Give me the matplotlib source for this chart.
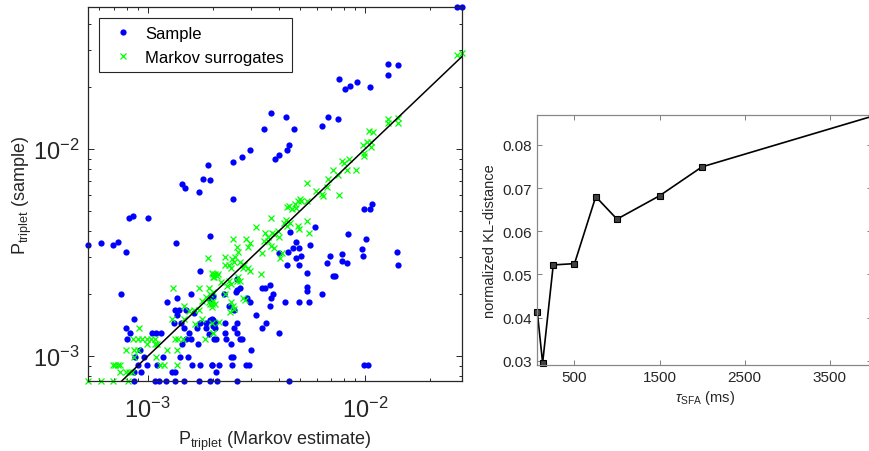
import numpy as np
import matplotlib
matplotlib.use("Agg")
import matplotlib.pyplot as plt
from matplotlib.ticker import LogLocator, NullFormatter, FixedLocator

plt.rcParams['font.family'] = ['Liberation Sans', 'DejaVu Sans']
plt.rcParams['mathtext.fontset'] = 'custom'
plt.rcParams['mathtext.rm'] = 'Liberation Sans'
plt.rcParams['mathtext.it'] = 'Liberation Sans:italic'
plt.rcParams['mathtext.sf'] = 'Liberation Sans'

# --- left panel: triplet probabilities (values in units of 1e-3) ---
sample_x = [3.69, 3.43, 2.95, 2.72, 2.48, 1.89, 1.79, 1.945, 1.44, 1.48,
            1.72, 2.47, 3.85, 4.00, 4.38, 4.45, 4.71, 4.33, 6.35, 6.75,
            7.49, 7.59, 8.11, 8.52, 9.16, 10.5, 12.75, 14.2, 12.72, 26.4,
            27.95, 0.823, 0.853, 1.008, 0.533, 0.608, 0.690, 0.728, 0.794, 1.354,
            1.929, 1.746, 0.754, 1.223, 1.37, 1.587, 1.94, 2.00, 0.862, 0.797,
            0.832, 0.803, 1.046, 1.095, 1.148, 1.336, 1.398, 1.501, 1.37, 1.326,
            1.418, 1.639, 1.86, 1.929, 2.00, 1.47, 1.549, 1.501, 1.686, 1.736,
            1.855, 1.91, 2.00, 1.58, 1.438, 1.70, 0.922, 0.874, 0.962, 1.172,
            1.408, 1.528, 0.905, 0.993, 1.107, 1.604, 1.74, 1.975, 0.868, 0.929,
            1.289, 1.33, 0.868, 1.084, 1.127, 1.21, 1.33, 1.47, 1.72, 1.929,
            5.91, 4.53, 4.83, 4.66, 4.95, 5.59, 4.03, 4.42, 4.83, 5.10,
            4.37, 4.95, 6.92, 6.69, 7.12, 5.42, 3.35, 3.48, 3.67, 5.41,
            5.41, 6.35, 3.78, 3.70, 3.67, 4.30, 4.99, 5.54, 2.65, 2.58,
            2.54, 2.58, 2.24, 2.85, 2.96, 2.37, 2.50, 3.15, 3.50, 3.36,
            4.03, 1.976, 2.03, 2.03, 2.28, 2.57, 2.27, 2.49, 2.58, 2.02,
            2.06, 2.30, 2.65, 2.71, 2.42, 2.99, 2.41, 2.46, 1.97, 2.135,
            2.44, 2.84, 2.93, 2.055, 2.09, 2.57, 4.46, 9.90, 10.58, 10.8,
            8.36, 10.07, 9.72, 9.83, 7.84, 7.84, 8.29, 14.04, 14.2, 7.28,
            9.86, 10.32]
sample_y = [14.97, 12.45, 9.93, 9.15, 8.66, 8.40, 7.15, 7.10, 6.80, 6.48,
            6.18, 5.77, 9.00, 9.40, 9.85, 10.5, 12.45, 14.27, 12.9, 14.27,
            13.9, 21.7, 19.4, 20.2, 21.1, 20.0, 25.7, 25.4, 22.75, 48.3,
            48.3, 4.63, 4.73, 4.63, 3.44, 3.51, 3.44, 3.56, 3.19, 3.51,
            3.80, 2.58, 2.00, 1.83, 1.90, 1.99, 1.89, 1.96, 1.51, 1.37,
            1.29, 1.21, 1.30, 1.30, 1.30, 1.68, 1.68, 1.68, 1.59, 1.45,
            1.45, 1.62, 1.45, 1.50, 1.50, 1.37, 1.30, 1.21, 1.37, 1.45,
            1.37, 1.28, 1.40, 1.21, 1.14, 1.14, 1.07, 0.989, 0.989, 0.989,
            0.989, 0.989, 0.908, 0.908, 0.908, 0.908, 0.908, 0.908, 0.837, 0.837,
            0.837, 0.837, 0.757, 0.757, 0.757, 0.757, 0.757, 0.757, 0.757, 0.757,
            4.19, 3.97, 3.57, 3.34, 3.34, 3.44, 3.14, 3.18, 2.97, 3.05,
            2.76, 2.76, 3.05, 2.83, 2.44, 2.51, 2.14, 2.14, 2.21, 2.15,
            2.07, 1.99, 1.99, 1.90, 1.75, 1.83, 1.83, 1.83, 2.14, 2.09,
            2.05, 2.36, 2.00, 1.90, 1.83, 1.75, 1.67, 1.59, 1.45, 1.37,
            1.30, 1.51, 1.45, 1.37, 1.45, 1.45, 1.30, 1.37, 1.30, 1.21,
            1.21, 1.21, 1.21, 1.21, 1.14, 1.07, 0.989, 0.989, 0.908, 0.908,
            0.908, 0.908, 0.908, 0.837, 0.757, 0.757, 0.757, 5.12, 5.12, 5.41,
            3.88, 3.68, 3.29, 3.05, 3.13, 2.88, 2.83, 3.19, 2.76, 2.44,
            0.908, 0.908]

markov_x = [26.4, 27.95, 12.72, 14.15, 12.72, 14.15, 10.4, 10.86, 9.75, 10.18,
            10.62, 10.62, 9.86, 9.93, 7.81, 8.03, 8.44, 8.29, 9.09, 7.12,
            7.51, 6.78, 6.69, 5.93, 6.32, 6.39, 5.41, 7.57, 5.01, 4.48,
            4.60, 4.81, 4.93, 5.08, 4.77, 4.36, 5.39, 3.69, 4.34, 4.24,
            4.50, 4.39, 4.90, 4.97, 5.39, 5.54, 3.14, 3.46, 3.57, 3.73,
            3.82, 3.99, 4.00, 3.59, 3.43, 3.68, 3.81, 4.14, 2.48, 2.82,
            2.95, 2.90, 2.57, 2.60, 2.53, 2.44, 2.27, 2.27, 2.37, 2.49,
            2.41, 2.66, 2.78, 2.90, 2.97, 2.74, 3.35, 3.33, 4.05, 1.97,
            2.04, 2.11, 2.00, 2.08, 2.17, 2.31, 2.37, 2.42, 2.57, 2.61,
            2.66, 1.93, 1.99, 2.00, 1.93, 2.04, 1.97, 2.28, 2.41, 2.46,
            2.49, 2.39, 2.74, 2.79, 2.12, 2.00, 1.98, 0.533, 0.608, 0.692,
            0.814, 0.690, 0.707, 0.728, 0.743, 0.748, 0.797, 0.823, 0.844, 0.794,
            0.865, 0.905, 0.989, 1.10, 1.223, 1.36, 0.860, 0.905, 0.944, 0.989,
            1.032, 1.078, 1.336, 1.383, 1.461, 0.915, 0.865, 1.189, 1.092, 1.36,
            1.139, 1.311, 1.717, 1.92, 1.90, 1.99, 2.02, 1.474, 1.549, 1.633,
            1.72, 1.772, 1.849, 1.905, 1.97, 1.298, 1.464, 1.651, 1.772, 1.835,
            2.00, 1.084]
markov_y = [28.4, 28.95, 13.95, 14.1, 13.35, 13.35, 12.17, 12.08, 10.45, 10.8,
            10.8, 10.19, 9.56, 9.28, 8.78, 8.58, 8.93, 7.94, 7.94, 7.94,
            7.49, 7.16, 6.56, 6.25, 6.06, 5.94, 6.83, 5.98, 5.74, 5.33,
            5.14, 5.19, 5.59, 5.63, 5.43, 5.23, 5.59, 4.63, 4.54, 4.38,
            4.38, 4.24, 4.25, 4.09, 4.47, 3.95, 4.19, 3.95, 3.78, 3.93,
            3.89, 4.04, 3.75, 3.61, 3.59, 3.39, 3.32, 3.14, 3.68, 3.68,
            3.51, 3.36, 3.36, 3.17, 3.00, 2.95, 3.00, 2.76, 2.76, 2.84,
            2.67, 2.84, 2.76, 2.67, 2.57, 2.67, 3.14, 2.49, 2.97, 2.52,
            2.49, 2.49, 2.40, 2.43, 2.27, 2.19, 2.30, 2.23, 2.30, 2.40,
            2.30, 2.00, 2.05, 1.85, 1.79, 1.79, 1.72, 2.00, 1.82, 1.75,
            1.69, 1.63, 1.90, 1.87, 1.47, 1.29, 1.45, 0.757, 0.757, 0.757,
            0.757, 0.908, 0.908, 0.908, 0.908, 0.837, 0.837, 0.837, 0.837, 1.07,
            1.07, 1.07, 1.14, 1.14, 1.07, 1.07, 1.21, 1.21, 1.21, 1.21,
            1.21, 1.21, 1.21, 1.21, 1.21, 1.37, 0.989, 0.908, 0.989, 0.908,
            0.908, 2.14, 2.13, 2.13, 2.97, 2.49, 2.42, 1.74, 1.65, 1.68,
            1.68, 1.85, 1.93, 1.82, 1.79, 1.51, 1.51, 1.43, 1.51, 1.21,
            1.30, 1.14]

# --- right panel: KL distance vs adaptation time constant ---
tau_sfa = [62.5, 125, 250, 500, 750, 1000, 1500, 2000, 4000]
kl_dist = [0.0413, 0.0295, 0.0522, 0.0525, 0.0680, 0.0628, 0.0682, 0.0749, 0.0866]

sx = np.array(sample_x) * 1e-3
sy = np.array(sample_y) * 1e-3
mx = np.array(markov_x) * 1e-3
my = np.array(markov_y) * 1e-3

fig = plt.figure(figsize=(8.7, 4.52), dpi=100)

ax1 = fig.add_axes([0.1015, 0.1542, 0.4295, 0.8274])
ax1.plot(sx, sy, 'o', color=(0, 0, 1), ms=4.5, mew=0, clip_on=False, label='Sample')
ax1.plot(mx, my, 'x', color=(0, 1, 0), ms=3.8, mew=0.9, clip_on=False,
         label='Markov surrogates')
xmin = min(sx.min(), mx.min())
xmax = max(sx.max(), mx.max())
ymin = min(sy.min(), my.min())
ymax = max(sy.max(), my.max())
ax1.plot([xmin, xmax], [xmin, xmax], 'k-', lw=1.1)
ax1.set_xscale('log')
ax1.set_yscale('log')
ax1.set_xlim(xmin, xmax)
ax1.set_ylim(ymin, ymax)
ax1.xaxis.set_minor_locator(LogLocator(subs=np.arange(2, 10)))
ax1.yaxis.set_minor_locator(LogLocator(subs=np.arange(2, 10)))
ax1.xaxis.set_minor_formatter(NullFormatter())
ax1.yaxis.set_minor_formatter(NullFormatter())
ax1.tick_params(which='both', direction='in', top=True, right=True,
                labelsize=17, color='#262626', labelcolor='#262626', width=0.7)
ax1.tick_params(which='major', length=4.5)
ax1.tick_params(which='minor', length=2.5)
ax1.tick_params(axis='x', which='major', pad=11)
ax1.tick_params(axis='y', which='major', pad=6)
for sp in ax1.spines.values():
    sp.set_color('#262626')
    sp.set_linewidth(0.9)
ax1.set_xlabel(r'P$_{\mathrm{triplet}}$ (Markov estimate)', fontsize=13,
               color='#262626', labelpad=5)
ax1.set_ylabel(r'P$_{\mathrm{triplet}}$ (sample)', fontsize=13,
               color='#262626', labelpad=-0.5)
leg = ax1.legend(loc='upper left', bbox_to_anchor=(0.028, 0.971), borderaxespad=0,
                 fontsize=12, numpoints=1, fancybox=False, framealpha=1,
                 edgecolor='#262626', handlelength=2.0, handletextpad=0.35,
                 labelspacing=0.55, borderpad=0.45)
leg.get_frame().set_linewidth(0.8)

ax2 = fig.add_axes([0.6176, 0.1909, 0.3847, 0.5524])
ax2.plot(tau_sfa, kl_dist, '-s', color='k', lw=1.2, ms=4.3, mfc='#404040',
         mec='k', mew=0.8, clip_on=False)
ax2.set_xlim(tau_sfa[0], tau_sfa[-1])
ax2.set_ylim(0.0291, 0.0869)
ax2.xaxis.set_major_locator(FixedLocator([500, 1500, 2500, 3500]))
ax2.set_yticks([0.03, 0.04, 0.05, 0.06, 0.07, 0.08])
ax2.set_yticklabels(['0.03', '0.04', '0.05', '0.06', '0.07', '0.08'])
ax2.tick_params(direction='in', top=True, right=True, length=3.5, width=0.7,
                labelsize=11, color='#808080', labelcolor='#262626', pad=4)
for sp in ax2.spines.values():
    sp.set_color('#888888')
    sp.set_linewidth(0.9)
ax2.set_xlabel(r'$\tau_{\mathrm{SFA}}$ (ms)', fontsize=10.5, color='#262626', labelpad=3)
ax2.set_ylabel('normalized KL-distance', fontsize=10.5, color='#262626', labelpad=4)

fig.savefig('out.png', dpi=100)
